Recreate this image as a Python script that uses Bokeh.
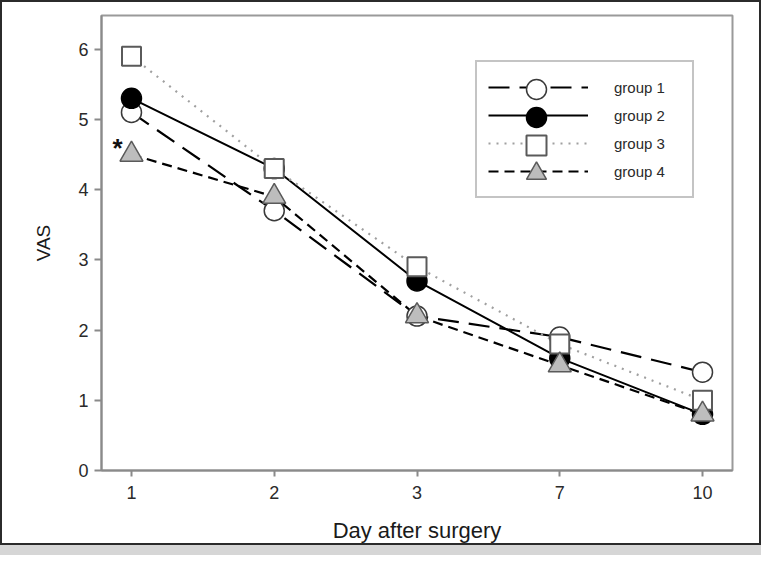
from bokeh.plotting import figure
from bokeh.models import Range1d, FixedTicker, Legend, LegendItem
from bokeh.core.properties import value
from bokeh.embed import file_html
from bokeh.resources import INLINE

# ---- data ----
days = ["1", "2", "3", "7", "10"]
group1 = [5.1, 3.7, 2.2, 1.9, 1.4]
group2 = [5.3, 4.3, 2.7, 1.6, 0.8]
group3 = [5.9, 4.3, 2.9, 1.8, 1.0]
group4 = [4.5, 3.9, 2.2, 1.5, 0.8]
group_names = ["group 1", "group 2", "group 3", "group 4"]
y_ticks = [0, 1, 2, 3, 4, 5, 6]
star_day_index = 0  # asterisk marks group 4 on day 1

xs = list(range(len(days)))
FONT = "Liberation Sans"

p = figure(width=761, height=545, output_backend="svg", toolbar_location=None,
           x_range=Range1d(-0.21, len(days) - 1 + 0.21), y_range=Range1d(0, 6.48),
           min_border_left=99, min_border_right=31, min_border_top=13, min_border_bottom=77,
           background_fill_color="white", border_fill_color="white")
p.styles = {"border": "2px solid #2b2b2b", "box-shadow": "0 10px 0 0 #d6d6d6"}
p.outline_line_color = "#9a9a9a"
p.outline_line_width = 2
p.grid.visible = False

# axes
p.xaxis.ticker = FixedTicker(ticks=xs)
p.xaxis.major_label_overrides = {i: d for i, d in enumerate(days)}
p.yaxis.ticker = FixedTicker(ticks=y_ticks)
for ax in (p.xaxis[0], p.yaxis[0]):
    ax.axis_line_color = "#8a8a8a"
    ax.axis_line_width = 2
    ax.major_tick_line_color = "#8a8a8a"
    ax.major_tick_line_width = 2
    ax.major_tick_in = 0
    ax.minor_tick_line_color = None
    ax.major_label_text_font = FONT
    ax.major_label_text_font_size = "18px"
    ax.major_label_text_color = "#2a2a2a"
    ax.axis_label_text_font = FONT
    ax.axis_label_text_font_style = "normal"
    ax.axis_label_text_color = "#1a1a1a"
p.xaxis.major_tick_out = 6
p.yaxis.major_tick_out = 7
p.xaxis.major_label_standoff = 9
p.yaxis.major_label_standoff = 6
p.xaxis.axis_label = "Day after surgery"
p.xaxis.axis_label_text_font_size = "22px"
p.xaxis.axis_label_standoff = 16
p.yaxis.axis_label = "VAS"
p.yaxis.axis_label_text_font_size = "19px"
p.yaxis.axis_label_standoff = 21

# lines
l1 = p.line(xs, group1, line_color="black", line_width=2.2, line_dash="21 10")
l2 = p.line(xs, group2, line_color="black", line_width=2)
l3 = p.line(xs, group3, line_color="#a0a0a0", line_width=2.2, line_dash="2 6")
l4 = p.line(xs, group4, line_color="black", line_width=2.2, line_dash="10 6")

# markers (drawn in group order; later groups on top)
m1 = p.scatter(xs, group1, marker="circle", size=20, fill_color="white",
               line_color="#3a3a3a", line_width=1.5)
m2 = p.scatter(xs, group2, marker="circle", size=20, fill_color="black",
               line_color="black", line_width=1.5)
m3 = p.scatter(xs, group3, marker="square", size=19, fill_color="white",
               line_color="#5a5a5a", line_width=2)
m4 = p.scatter(xs, group4, marker="triangle", size=23, fill_color="#bdbdbd",
               line_color="#5a5a5a", line_width=1.5)

# asterisk next to group 4 day 1
p.text(x=[xs[star_day_index]], y=[group4[star_day_index]], text=["*"],
       x_offset=-14, y_offset=-7, text_align="center", text_baseline="alphabetic",
       text_font=value(FONT), text_font_size="26px", text_font_style="bold",
       text_color="#111111")

# main legend: lines + labels + box
ROW = 28
LEG_Y = 272
legend = Legend(items=[
    LegendItem(label=group_names[i], renderers=[r])
    for i, r in enumerate([l1, l2, l3, l4])
], location=(374, LEG_Y))
legend.glyph_width = 100
legend.glyph_height = ROW
legend.spacing = 0
legend.padding = 11
legend.margin = 0
legend.label_standoff = 26
legend.label_width = 67
legend.label_text_font = FONT
legend.label_text_font_size = "15px"
legend.label_text_color = "#2a2a2a"
legend.border_line_color = "#8a8a8a"
legend.border_line_width = 2
legend.background_fill_color = "white"
legend.background_fill_alpha = 1
p.add_layout(legend, "center")

# marker overlays for the legend rows (full-size symbols)
for k, m in enumerate([m1, m2, m3, m4]):
    ml = Legend(items=[LegendItem(label=" ", renderers=[m])],
                location=(410, LEG_Y + (3 - k) * ROW))
    ml.glyph_width = 50
    ml.glyph_height = 50
    ml.padding = 0
    ml.margin = 0
    ml.label_standoff = 0
    ml.label_width = 0
    ml.label_text_font_size = "10px"
    ml.border_line_color = None
    ml.background_fill_alpha = 0
    p.add_layout(ml, "center")

open("out.html", "w").write(file_html(p, INLINE))
